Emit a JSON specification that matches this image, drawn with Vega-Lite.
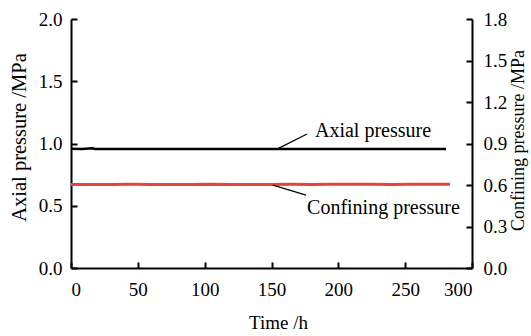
{
  "$schema": "https://vega.github.io/schema/vega-lite/v6.json",
  "width": 401,
  "height": 249,
  "autosize": "none",
  "padding": {"left": 71, "top": 19, "right": 59, "bottom": 68},
  "config": {
    "view": {"stroke": null},
    "font": "Liberation Serif",
    "axis": {
      "labelFont": "Liberation Serif",
      "titleFont": "Liberation Serif",
      "labelFontSize": 19,
      "titleFontSize": 20,
      "labelColor": "black",
      "titleColor": "black",
      "titleFontWeight": "normal",
      "domainColor": "black",
      "tickColor": "black",
      "domainWidth": 2,
      "tickWidth": 2,
      "tickSize": -6,
      "grid": false
    }
  },
  "layer": [
    {
      "data": {"values": [
        {"t": 0, "p": 0.957}, {"t": 8, "p": 0.956}, {"t": 16, "p": 0.962}, {"t": 18, "p": 0.956},
        {"t": 30, "p": 0.955}, {"t": 45, "p": 0.956}, {"t": 60, "p": 0.955}, {"t": 75, "p": 0.956},
        {"t": 90, "p": 0.955}, {"t": 105, "p": 0.955}, {"t": 120, "p": 0.956}, {"t": 135, "p": 0.955},
        {"t": 150, "p": 0.955}, {"t": 165, "p": 0.956}, {"t": 180, "p": 0.955}, {"t": 195, "p": 0.955},
        {"t": 210, "p": 0.956}, {"t": 225, "p": 0.955}, {"t": 240, "p": 0.956}, {"t": 255, "p": 0.955},
        {"t": 270, "p": 0.956}, {"t": 280.5, "p": 0.955}
      ]},
      "layer": [
        {
          "mark": {"type": "line", "color": "black", "strokeWidth": 2.5},
          "encoding": {
            "x": {"field": "t", "type": "quantitative", "scale": {"domain": [0, 300]},
                  "axis": {"values": [0, 50, 100, 150, 200, 250, 300], "title": "Time /h", "titleX": 207, "titleY": 60, "titleBaseline": "alphabetic", "titleFontSize": 19, "titleFontWeight": "normal", "labelPadding": 18}},
            "y": {"field": "p", "type": "quantitative", "scale": {"domain": [0, 2]},
                  "axis": {"orient": "left", "values": [0, 0.5, 1, 1.5, 2], "format": ".1f", "title": "Axial pressure /MPa", "titleAngle": -90, "titleX": -46, "titleY": 118, "titleAlign": "center", "titleBaseline": "alphabetic", "titleFontSize": 20.5, "labelPadding": 15}}
          }
        },
        {
          "data": {"values": [{"label": "Axial pressure"}]},
          "mark": {"type": "rule", "color": "black", "strokeWidth": 1.2},
          "encoding": {
            "x": {"datum": 154.1, "type": "quantitative"},
            "y": {"datum": 0.955, "type": "quantitative"},
            "x2": {"datum": 176.6},
            "y2": {"datum": 1.076}
          }
        },
        {
          "data": {"values": [{"label": "Axial pressure"}]},
          "mark": {"type": "text", "align": "left", "baseline": "alphabetic", "fontSize": 20, "fontWeight": "normal", "font": "Liberation Serif", "color": "black"},
          "encoding": {
            "text": {"field": "label"},
            "x": {"datum": 182.5, "type": "quantitative"},
            "y": {"datum": 1.052, "type": "quantitative"}
          }
        }
      ]
    },
    {
      "data": {"values": [
        {"t": 0, "p": 0.603}, {"t": 15, "p": 0.604}, {"t": 30, "p": 0.603}, {"t": 45, "p": 0.605},
        {"t": 60, "p": 0.604}, {"t": 75, "p": 0.603}, {"t": 90, "p": 0.604}, {"t": 105, "p": 0.606},
        {"t": 120, "p": 0.604}, {"t": 135, "p": 0.603}, {"t": 150, "p": 0.604}, {"t": 165, "p": 0.605},
        {"t": 180, "p": 0.604}, {"t": 195, "p": 0.605}, {"t": 210, "p": 0.606}, {"t": 225, "p": 0.605},
        {"t": 240, "p": 0.604}, {"t": 255, "p": 0.606}, {"t": 270, "p": 0.605}, {"t": 283.5, "p": 0.605}
      ]},
      "layer": [
        {
          "mark": {"type": "line", "color": "#e8423f", "strokeWidth": 3},
          "encoding": {
            "x": {"field": "t", "type": "quantitative", "scale": {"domain": [0, 300]}},
            "y": {"field": "p", "type": "quantitative", "scale": {"domain": [0, 1.8]},
                  "axis": {"orient": "right", "values": [0, 0.3, 0.6, 0.9, 1.2, 1.5, 1.8], "format": ".1f", "title": "Confining pressure /MPa", "titleAngle": -90, "titleX": 51, "titleY": 121, "titleAlign": "center", "titleBaseline": "alphabetic", "titleFontSize": 18, "labelPadding": 17}}
          }
        },
        {
          "data": {"values": [{"label": "Confining pressure"}]},
          "mark": {"type": "rule", "color": "black", "strokeWidth": 1.2},
          "encoding": {
            "x": {"datum": 151.1, "type": "quantitative"},
            "y": {"datum": 0.599, "type": "quantitative"},
            "x2": {"datum": 175.8},
            "y2": {"datum": 0.527}
          }
        },
        {
          "data": {"values": [{"label": "Confining pressure"}]},
          "mark": {"type": "text", "align": "left", "baseline": "alphabetic", "fontSize": 20, "fontWeight": "normal", "font": "Liberation Serif", "color": "black"},
          "encoding": {
            "text": {"field": "label"},
            "x": {"datum": 176.6, "type": "quantitative"},
            "y": {"datum": 0.389, "type": "quantitative"}
          }
        }
      ]
    }
  ],
  "resolve": {"scale": {"y": "independent"}}
}
